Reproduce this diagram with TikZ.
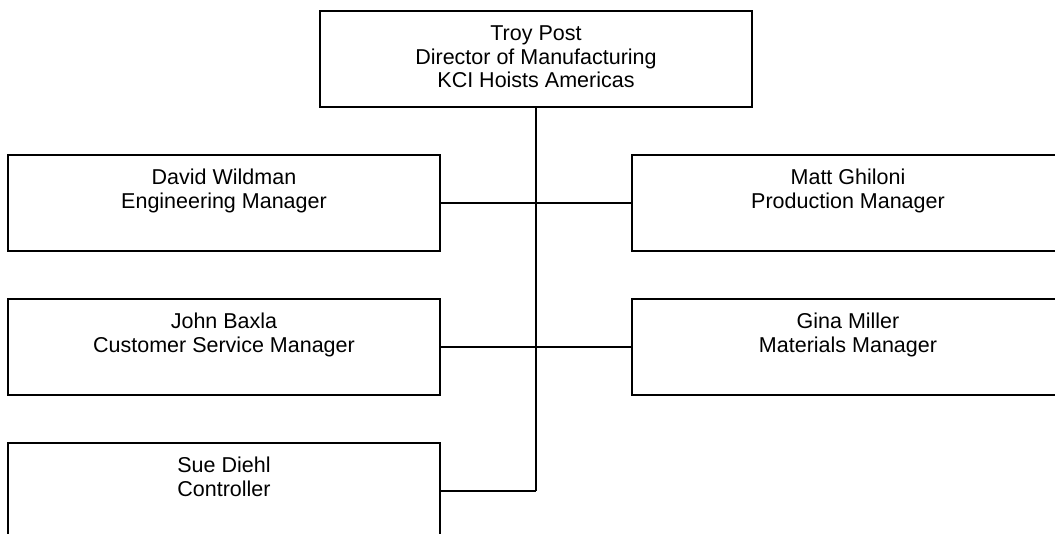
\documentclass[tikz,border=0pt]{standalone}
\usepackage{fontspec}
\setmainfont{Liberation Sans}
\begin{document}
\begin{tikzpicture}[x=1pt,y=-1pt,
  box/.style={draw=black, line width=1.9pt, rectangle, minimum width=432pt, minimum height=96pt, inner sep=0pt, align=center, text depth=4pt, font=\fontsize{21.5}{23.5}\selectfont},
  conn/.style={draw=black, line width=1.9pt}]
\useasboundingbox (0,0) rectangle (1055,534);
\clip (0,0) rectangle (1055,534);
\node[box] (top) at (536,58.7) {Troy Post\\Director of Manufacturing\\KCI Hoists Americas};
\node[box] (l1) at (224,202.7) {David Wildman\\Engineering Manager\\~};
\node[box] (l2) at (224,346.7) {John Baxla\\Customer Service Manager\\~};
\node[box] (l3) at (224,490.7) {Sue Diehl\\Controller\\~};
\node[box] (r1) at (848,202.7) {Matt Ghiloni\\Production Manager\\~};
\node[box] (r2) at (848,346.7) {Gina Miller\\Materials Manager\\~};
\coordinate (jn) at (top.south |- l3.east);
\draw[conn] (top.south) -- (jn);
\draw[conn] (l1.east) -- (r1.west);
\draw[conn] (l2.east) -- (r2.west);
\draw[conn] (l3.east) -- (jn);
\end{tikzpicture}
\end{document}
